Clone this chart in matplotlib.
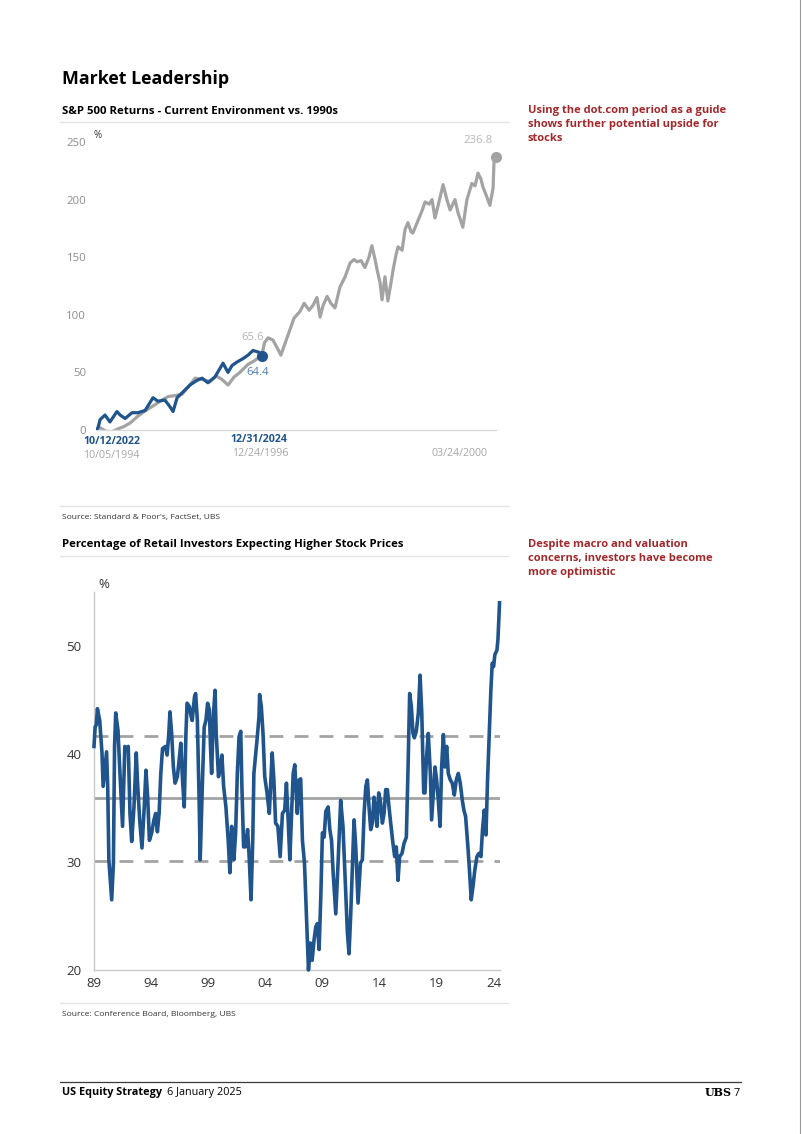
import matplotlib
matplotlib.use('Agg')
import matplotlib.pyplot as plt
from matplotlib.lines import Line2D

plt.rcParams['font.family'] = ['Open Sans', 'DejaVu Sans']

# ── colours ──────────────────────────────────────────────────────────────
BLUE = '#1F548C'
GREY = '#A3A3A3'
RED = '#A1282B'
TICK = '#8C8C8C'
DARK = '#333333'
RULE = '#E3E3E3'

# ── data: S&P 500 returns from the trough (trading days, %) ──────────────
now_days = [0, 7, 14, 31, 48, 72, 83, 100, 124, 144, 169, 196, 213, 237, 255,
            265, 279, 299, 323, 347, 365, 385, 409, 437, 454, 468, 485, 506,
            523, 540, 554, 564, 571]
now_ret = [0, 2, 9, 13, 7, 16, 13, 10, 15, 15, 17, 28, 25, 26, 20, 16, 28, 33,
           39, 43, 45, 41, 46, 58, 50, 56, 59, 62, 65, 69, 68, 67, 64.4]

s90_days = [0, 14, 34, 55, 76, 96, 117, 144, 172, 203, 227, 248, 275, 296, 316,
            341, 365, 392, 413, 433, 454, 475, 495, 523, 544, 561, 571, 580,
            592, 609, 626, 636, 650, 667, 681, 702, 716, 733, 746, 760, 771,
            781, 795, 808, 822, 839, 857, 874, 888, 898, 912, 925, 939, 949,
            960, 967, 977, 984, 994, 1004, 1015, 1022, 1032, 1039, 1053, 1063,
            1073, 1084, 1090, 1108, 1121, 1132, 1146, 1156, 1166, 1176, 1194,
            1207, 1218, 1235, 1245, 1262, 1276, 1293, 1304, 1314, 1324, 1331,
            1345, 1355, 1366, 1369, 1376]
s90_ret = [0, 2, -1, -1.5, 1, 3, 6, 12, 17, 22, 26, 29, 30, 31, 37, 45, 44, 42,
           47, 44, 39, 46, 50, 57, 60, 63, 65.6, 76, 80, 78, 70, 65, 75, 87, 97,
           103, 110, 104, 108, 115, 98, 108, 116, 110, 106, 124, 133, 145, 148,
           146, 147, 141, 150, 160, 148, 139, 128, 113, 133, 112, 128, 139, 152,
           159, 156, 174, 180, 172, 171, 182, 190, 198, 196, 200, 184, 194, 213,
           200, 191, 200, 189, 176, 200, 214, 212, 223, 218, 211, 202, 195, 210,
           232, 236.8]

# ── data: retail investors expecting higher stock prices (%) ─────────────
retail_year = [
    1989.0, 1989.1, 1989.2, 1989.3, 1989.5, 1989.7, 1989.8, 1990.0, 1990.1,
    1990.2, 1990.3, 1990.55, 1990.7, 1990.8, 1990.9, 1991.1, 1991.3, 1991.5,
    1991.7, 1991.85, 1992.0, 1992.15, 1992.3, 1992.5, 1992.7, 1992.8, 1993.0,
    1993.2, 1993.4, 1993.55, 1993.7, 1993.85, 1994.05, 1994.25, 1994.4,
    1994.55, 1994.7, 1994.85, 1995.0, 1995.25, 1995.4, 1995.55, 1995.65,
    1995.8, 1995.95, 1996.1, 1996.3, 1996.45, 1996.6, 1996.75, 1996.9,
    1997.05, 1997.15, 1997.35, 1997.5, 1997.6, 1997.8, 1997.9, 1998.05,
    1998.2, 1998.3, 1998.5, 1998.65, 1998.8, 1998.95, 1999.1, 1999.2, 1999.3,
    1999.45, 1999.6, 1999.7, 1999.9, 2000.05, 2000.2, 2000.35, 2000.55,
    2000.75, 2000.9, 2001.05, 2001.25, 2001.4, 2001.55, 2001.7, 2001.85,
    2001.95, 2002.1, 2002.25, 2002.45, 2002.6, 2002.75, 2002.9, 2003.0,
    2003.2, 2003.3, 2003.45, 2003.5, 2003.65, 2003.8, 2003.95, 2004.15,
    2004.35, 2004.5, 2004.6, 2004.75, 2004.9, 2005.1, 2005.3, 2005.5, 2005.7,
    2005.85, 2006.0, 2006.15, 2006.3, 2006.44, 2006.58, 2006.8, 2006.96,
    2007.1, 2007.25, 2007.43, 2007.6, 2007.78, 2007.95, 2008.1, 2008.27,
    2008.42, 2008.56, 2008.71, 2008.86, 2009.0, 2009.15, 2009.3, 2009.5,
    2009.65, 2009.8, 2009.94, 2010.17, 2010.37, 2010.6, 2010.8, 2011.0,
    2011.19, 2011.33, 2011.48, 2011.63, 2011.77, 2011.92, 2012.12, 2012.33,
    2012.5, 2012.65, 2012.8, 2012.94, 2013.08, 2013.23, 2013.37, 2013.52,
    2013.67, 2013.78, 2013.93, 2014.07, 2014.25, 2014.4, 2014.54, 2014.69,
    2014.83, 2014.98, 2015.18, 2015.33, 2015.47, 2015.62, 2015.76, 2015.97,
    2016.14, 2016.35, 2016.5, 2016.64, 2016.79, 2016.93, 2017.05, 2017.22,
    2017.4, 2017.55, 2017.7, 2017.87, 2017.98, 2018.1, 2018.27, 2018.45,
    2018.56, 2018.71, 2018.86, 2019.0, 2019.15, 2019.3, 2019.44, 2019.59,
    2019.73, 2019.88, 2020.02, 2020.2, 2020.37, 2020.55, 2020.72, 2020.9,
    2021.07, 2021.25, 2021.39, 2021.54, 2021.74, 2021.89, 2022.03, 2022.18,
    2022.35, 2022.53, 2022.7, 2022.88, 2023.02, 2023.17, 2023.32, 2023.46,
    2023.61, 2023.75, 2023.87, 2023.99, 2024.1, 2024.28, 2024.37, 2024.51]
retail_pct = [
    40.7, 42.5, 42.7, 44.2, 43.1, 40.1, 37.0, 39.1, 40.2, 37.0, 30.2, 26.5,
    29.9, 40.7, 43.8, 42.2, 37.6, 33.3, 40.7, 40.5, 40.7, 34.5, 31.9, 35.1,
    40.1, 37.6, 33.9, 31.3, 35.1, 38.5, 36.0, 32.0, 32.7, 33.9, 34.5, 32.8,
    34.5, 38.2, 40.5, 40.7, 39.9, 41.9, 43.9, 41.9, 38.8, 37.3, 37.9, 39.4,
    41.0, 37.6, 35.1, 41.9, 44.7, 44.4, 43.5, 43.1, 45.3, 45.6, 43.1, 36.0,
    30.2, 37.6, 42.5, 43.1, 44.7, 44.1, 40.7, 38.2, 43.5, 45.9, 41.9, 37.9,
    38.8, 39.9, 37.0, 35.1, 32.0, 29.0, 33.3, 30.2, 32.7, 38.2, 41.6, 42.1,
    37.0, 31.4, 31.4, 33.0, 30.2, 26.5, 32.0, 38.2, 40.4, 41.6, 43.5, 45.5,
    44.4, 41.9, 37.9, 36.4, 34.5, 37.9, 40.1, 37.6, 33.6, 33.3, 30.5, 34.5,
    34.8, 37.3, 33.9, 30.2, 34.5, 38.2, 39.0, 34.5, 37.6, 37.7, 32.0, 29.9,
    25.2, 20.0, 22.5, 20.9, 22.8, 24.0, 24.3, 21.9, 26.8, 32.7, 32.3, 34.7,
    35.1, 33.0, 32.0, 29.0, 25.2, 29.9, 35.7, 33.3, 28.3, 23.4, 21.5, 25.2,
    29.6, 33.9, 31.4, 26.2, 29.9, 30.2, 34.5, 37.0, 37.6, 35.1, 33.0, 33.6,
    36.0, 34.5, 33.3, 36.4, 35.7, 33.6, 34.5, 36.7, 36.7, 35.1, 33.6, 31.7,
    30.5, 31.4, 28.3, 30.5, 30.8, 31.7, 32.3, 38.8, 45.6, 44.4, 41.9, 41.5,
    42.1, 43.8, 47.3, 43.8, 36.4, 36.4, 39.4, 41.9, 38.2, 33.9, 36.4, 38.8,
    37.6, 35.7, 33.3, 38.8, 41.8, 38.8, 40.7, 38.2, 37.6, 37.3, 36.2, 37.6,
    38.2, 37.3, 35.7, 34.8, 34.2, 31.4, 29.0, 26.5, 27.7, 29.3, 30.5, 30.8,
    30.5, 33.0, 34.8, 32.5, 37.6, 41.9, 45.9, 48.4, 48.1, 49.2, 49.6, 50.6,
    54.0]
retail_mean = 35.9
retail_sd = 5.8
year_ticks = [1989, 1994, 1999, 2004, 2009, 2014, 2019, 2024]
year_labels = ['89', '94', '99', '04', '09', '14', '19', '24']

W, H = 802, 1134
fig = plt.figure(figsize=(W / 100, H / 100), dpi=100)
fig.patch.set_facecolor('white')


def ftext(x, y, s, **kw):
    """Text placed in page pixels (origin top-left)."""
    return fig.text(x / W, 1 - y / H, s, **kw)


def hrule(x0, x1, y, color=RULE, lw=1.0):
    fig.add_artist(Line2D([x0 / W, x1 / W], [1 - y / H, 1 - y / H],
                          color=color, lw=lw, transform=fig.transFigure))


def add_axes(x0, y0, x1, y1):
    return fig.add_axes([x0 / W, 1 - y1 / H, (x1 - x0) / W, (y1 - y0) / H])


# ── page headings ────────────────────────────────────────────────────────
ftext(62, 79, 'Market Leadership', fontsize=12.8, fontweight='bold',
      color='black', va='center')
ftext(62, 111, 'S&P 500 Returns - Current Environment vs. 1990s',
      fontsize=8.2, fontweight='bold', color='black', va='center')
hrule(60, 508, 122)
ftext(528, 105, 'Using the dot.com period as a guide\nshows further potential upside for\nstocks',
      fontsize=8.0, fontweight='bold', color=RED, va='top', linespacing=1.38)

# ── chart 1 ──────────────────────────────────────────────────────────────
ax1 = add_axes(96, 142, 496, 430)
ax1.plot(s90_days, s90_ret, color=GREY, lw=2.3, solid_joinstyle='round', zorder=2)
ax1.plot(now_days, now_ret, color=BLUE, lw=2.3, solid_joinstyle='round', zorder=3)
ax1.plot(s90_days[-1], s90_ret[-1], 'o', color=GREY, ms=7, clip_on=False, zorder=4)
ax1.plot(now_days[-1], now_ret[-1], 'o', color=BLUE, ms=7, clip_on=False, zorder=4)
ax1.set_xlim(0, s90_days[-1])
ax1.set_ylim(0, 250)
ax1.set_yticks([0, 50, 100, 150, 200, 250])
ax1.set_xticks([])
ax1.tick_params(axis='y', length=0, pad=7, labelsize=8.2, labelcolor=TICK)
for s in ('top', 'right', 'left'):
    ax1.spines[s].set_visible(False)
ax1.spines['bottom'].set_color('#D9D9D9')
ax1.spines['bottom'].set_linewidth(1.0)

ax1.annotate(f'{s90_ret[-1]:.1f}', (s90_days[-1], s90_ret[-1]), xytext=(-13, 12),
             textcoords='offset points', color='#B5B5B5', fontsize=8.2,
             ha='center', va='center')
ax1.annotate('65.6', (now_days[-1], 65.6), xytext=(-7, 12),
             textcoords='offset points', color='#B5B5B5', fontsize=8.2,
             ha='center', va='center')
ax1.annotate(f'{now_ret[-1]:.1f}', (now_days[-1], now_ret[-1]), xytext=(-3, -12),
             textcoords='offset points', color='#4F7DB0', fontsize=8.2,
             ha='center', va='center')
ftext(94, 135, '%', fontsize=7, color=DARK, va='center')

ftext(83, 442, '10/12/2022', fontsize=7.7, fontweight='bold', color=BLUE, va='center')
ftext(83, 455, '10/05/1994', fontsize=7.7, color='#A6A6A6', va='center')
ftext(259, 439, '12/31/2024', fontsize=7.7, fontweight='bold', color=BLUE,
      va='center', ha='center')
ftext(260, 454, '12/24/1996', fontsize=7.7, color='#A6A6A6', va='center', ha='center')
ftext(459, 454, '03/24/2000', fontsize=7.7, color='#A6A6A6', va='center', ha='center')

hrule(60, 508, 506)
ftext(62, 518, "Source: Standard & Poor's, FactSet, UBS", fontsize=6.1,
      color=DARK, va='center')

# ── chart 2 ──────────────────────────────────────────────────────────────
ftext(62, 545, 'Percentage of Retail Investors Expecting Higher Stock Prices',
      fontsize=8.2, fontweight='bold', color='black', va='center')
hrule(60, 508, 556)
ftext(528, 539, 'Despite macro and valuation\nconcerns, investors have become\nmore optimistic',
      fontsize=8.0, fontweight='bold', color=RED, va='top', linespacing=1.38)

ax2 = add_axes(94, 592, 500, 970)
ax2.axhline(retail_mean, color=GREY, lw=2.0, zorder=1)
for lvl in (retail_mean + retail_sd, retail_mean - retail_sd):
    ax2.axhline(lvl, color=GREY, lw=2.0, dashes=(5, 4), zorder=1)
ax2.plot(retail_year, retail_pct, color=BLUE, lw=2.6, solid_joinstyle='round',
         zorder=3, clip_on=False)
ax2.set_xlim(1989, 2024.55)
ax2.set_ylim(20, 55)
ax2.set_yticks([20, 30, 40, 50])
ax2.set_xticks(year_ticks)
ax2.set_xticklabels(year_labels)
ax2.tick_params(length=0, labelsize=9.5, labelcolor=DARK)
ax2.tick_params(axis='y', pad=9)
ax2.tick_params(axis='x', pad=5)
for s in ('top', 'right'):
    ax2.spines[s].set_visible(False)
for s in ('left', 'bottom'):
    ax2.spines[s].set_color('#C8C8C8')
    ax2.spines[s].set_linewidth(1.0)
ftext(98, 584, '%', fontsize=9.5, color=DARK, va='center')

hrule(60, 508, 1003)
ftext(62, 1015, 'Source: Conference Board, Bloomberg, UBS', fontsize=6.1,
      color=DARK, va='center')

# ── footer ───────────────────────────────────────────────────────────────
hrule(60, 741, 1082, color='#3A3A3A', lw=0.9)
ftext(62, 1093, 'US Equity Strategy', fontsize=7.8, fontweight='bold',
      color='black', va='center')
ftext(167, 1093, '6 January 2025', fontsize=7.8, color='black', va='center')
ftext(718, 1093, 'UBS', fontsize=8, fontweight='bold', family='DejaVu Serif',
      color='black', va='center', ha='center')
ftext(740, 1093, '7', fontsize=7.8, color='black', va='center', ha='right')
fig.add_artist(Line2D([800 / W, 800 / W], [0, 1], color='#9A9A9A', lw=0.8,
                      transform=fig.transFigure))

fig.savefig('out.png', dpi=100, facecolor='white')
